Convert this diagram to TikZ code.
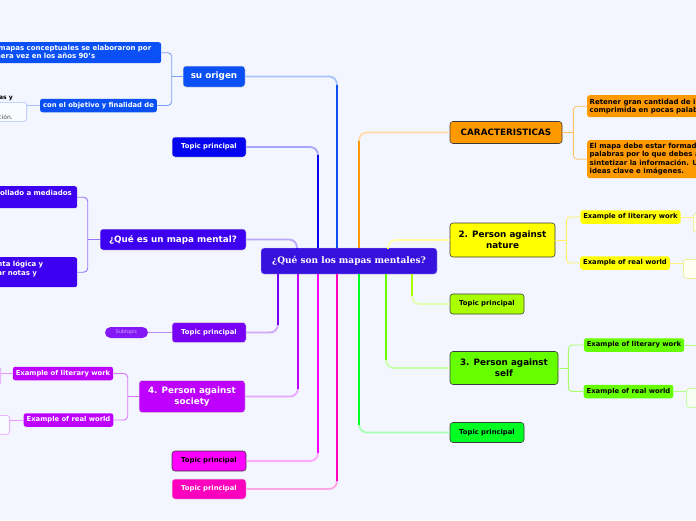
\documentclass[tikz,border=0pt]{standalone}
\usepackage{fontspec}
\setsansfont{DejaVu Sans}
\newfontfamily\rootfont{DejaVu Serif}
\usetikzlibrary{positioning}

\definecolor{bgpaper}{RGB}{243,246,254}
\definecolor{rootblue}{RGB}{55,18,222}
\definecolor{originblue}{RGB}{10,80,245}
\definecolor{topicblue}{RGB}{5,5,240}
\definecolor{mentalviolet}{RGB}{62,0,240}
\definecolor{topicviolet}{RGB}{120,0,245}
\definecolor{societypurple}{RGB}{190,0,255}
\definecolor{topicmagenta}{RGB}{255,0,255}
\definecolor{topicpink}{RGB}{255,0,190}
\definecolor{caracorange}{RGB}{255,153,0}
\definecolor{natureyellow}{RGB}{255,255,0}
\definecolor{topiclime}{RGB}{170,255,0}
\definecolor{selfgreen}{RGB}{102,255,0}
\definecolor{topicgreen}{RGB}{0,255,34}
\definecolor{edgegray}{RGB}{60,60,60}

\begin{document}
\begin{tikzpicture}[x=1pt, y=-1pt,
    rootbox/.style={rectangle, rounded corners=3, fill=rootblue, draw=white!70!rootblue, text=white, font=\rootfont\bfseries\fontsize{9}{11}\selectfont, minimum width=176, minimum height=26},
    bigbox/.style={rectangle, rounded corners=3, align=center, font=\sffamily\bfseries\fontsize{8.8}{10.7}\selectfont, inner sep=2},
    topicbox/.style={rectangle, rounded corners=3, font=\sffamily\bfseries\fontsize{6.8}{8}\selectfont, minimum width=74, minimum height=20},
    leafbox/.style={rectangle, rounded corners=2.5, font=\sffamily\bfseries\fontsize{6.8}{8}\selectfont, minimum height=13.5, inner xsep=3, inner ysep=1},
    notebox/.style={rectangle, rounded corners=2.5, align=left, font=\sffamily\bfseries\fontsize{7}{8.5}\selectfont, inner sep=2.5},
    stubbox/.style={rectangle, rounded corners=3, minimum width=40, minimum height=19, line width=0.6},
    darkedge/.style={draw=edgegray, line width=0.6, text=black},
    lightedge/.style={draw=white!75!gray, line width=0.5, text=white},
    trunk/.style={line width=1.8, rounded corners=8},
    twig/.style={line width=0.9, rounded corners=4}
]
\useasboundingbox (0,0) rectangle (696,520);
\fill[bgpaper] (0,0) rectangle (696,520);
\clip (0,0) rectangle (696,520);

% central topic
\node[rootbox] (root) at (349,261) {¿Qué son los mapas mentales?};

% right side
\node[bigbox, fill=caracorange, darkedge, minimum width=112, minimum height=22] (carac) at (506,132.5) {CARACTERISTICAS};
\node[notebox, fill=caracorange, anchor=north west, minimum height=22] (retener) at (587,95) {Retener gran cantidad de información\\comprimida en pocas palabras.};
\node[notebox, fill=caracorange, anchor=north west, minimum height=38] (formado) at (587,140) {El mapa debe estar formado por pocas\\palabras por lo que debes aprender a\\sintetizar la información. Utiliza\\ideas clave e imágenes.};

\node[bigbox, fill=natureyellow, darkedge, minimum width=105, minimum height=34] (nature) at (502.5,240) {2. Person against\\nature};
\node[leafbox, fill=natureyellow] (natlit) at (630.5,217) {Example of literary work};
\node[leafbox, fill=natureyellow] (natreal) at (625,263) {Example of real world};
\node[stubbox, draw=natureyellow!70!gray!60, fill=natureyellow!5, anchor=north west] (natlitnote) at (693,213) {};
\node[stubbox, draw=natureyellow!70!gray!60, fill=natureyellow!5, anchor=north west] (natrealnote) at (683,259) {};

\node[topicbox, fill=topiclime, darkedge] (limetopic) at (487,304) {Topic principal};

\node[bigbox, fill=selfgreen, darkedge, minimum width=108, minimum height=33] (self) at (504,368) {3. Person against\\self};
\node[leafbox, fill=selfgreen] (selflit) at (634,345) {Example of literary work};
\node[leafbox, fill=selfgreen] (selfreal) at (628.5,391.5) {Example of real world};
\coordinate (selflitend) at (696,345);
\node[stubbox, draw=selfgreen!50, fill=selfgreen!5, anchor=north west] (selfrealnote) at (686,388) {};

\node[topicbox, fill=topicgreen, darkedge] (greentopic) at (487,432.5) {Topic principal};

% left side
\node[bigbox, fill=originblue, lightedge, minimum width=62, minimum height=21] (origin) at (214,76.5) {su origen};
\node[notebox, fill=originblue, text=white, anchor=north west, text width=176, minimum height=21] (conceptual) at (-20,42) {Los mapas conceptuales se elaboraron por\\primera vez en los años 90's};
\node[leafbox, fill=originblue, text=white] (objective) at (98.5,105.5) {con el objetivo y finalidad de};
\node[stubbox, draw=originblue!35, fill=white!60!bgpaper, anchor=north east, minimum width=50] (objnote) at (27,102) {};
\node[font=\sffamily\bfseries\fontsize{6}{7}\selectfont, anchor=base east, inner sep=0] (objtop) at (13,99) {ideas y};
\node[font=\sffamily\fontsize{6}{7}\selectfont, text=black!70, anchor=base east, inner sep=0] (objtail) at (13,119) {información.};

\node[topicbox, fill=topicblue, lightedge] (bluetopic) at (209,147) {Topic principal};

\node[bigbox, fill=mentalviolet, lightedge, minimum width=146, minimum height=21] (mental) at (173,239.5) {¿Qué es un mapa mental?};
\node[notebox, fill=mentalviolet, text=white, anchor=north west, text width=101, minimum height=22] (developed) at (-29,186) {Desarrollado a mediados\\\mbox{}};
\node[notebox, fill=mentalviolet, text=white, anchor=north west, text width=113, minimum height=30] (logic) at (-41,257) {herramienta lógica y\\para tomar notas y\\\mbox{}};

\node[topicbox, fill=topicviolet, lightedge] (violettopic) at (209,332.5) {Topic principal};
\node[rectangle, rounded corners=5.5, fill=topicviolet!90!white, text=white!65!topicviolet, font=\sffamily\fontsize{5}{6}\selectfont, minimum width=43, minimum height=11, inner sep=1] (subtopic) at (126.5,332.5) {Subtopic};

\node[bigbox, fill=societypurple, lightedge, minimum width=106, minimum height=32] (society) at (192,396.5) {4. Person against\\society};
\node[leafbox, fill=societypurple, text=white] (soclit) at (63,373.5) {Example of literary work};
\node[leafbox, fill=societypurple, text=white] (socreal) at (68.5,420) {Example of real world};
\node[stubbox, draw=societypurple!40, fill=white!60!bgpaper, anchor=north east] (soclitnote) at (1,366) {};
\node[stubbox, draw=societypurple!40, fill=white!60!bgpaper, anchor=north east] (socrealnote) at (10,415) {};

\node[topicbox, fill=topicmagenta, darkedge] (magentatopic) at (209,461) {Topic principal};
\node[topicbox, fill=topicpink, lightedge] (pinktopic) at (209,489) {Topic principal};

% trunks: light tint along the whole path, full colour on the vertical run
\foreach \child/\dx/\from/\to/\col in {origin/-12/north/east/originblue, bluetopic/-31/north/east/topicblue, mental/-52/north/east/mentalviolet,
    carac/10/north/west/caracorange, nature/39/north/west/natureyellow,
    violettopic/-71/south/east/topicviolet, society/-51/south/east/societypurple, magentatopic/-31/south/east/topicmagenta, pinktopic/-12/south/east/topicpink,
    limetopic/63/south/west/topiclime, self/37/south/west/selfgreen, greentopic/10/south/west/topicgreen} {
  \draw[trunk, \col!35] ([xshift=\dx]root.\from) |- (\child.\to);
  \draw[trunk, \col, shorten >=8] ([xshift=\dx]root.\from) -- ([xshift=\dx]root.\from |- \child.\to);
}

% twigs: bracket from each branch to its leaves
\coordinate (origin-j) at ([xshift=-11]origin.west);
\draw[twig, originblue!55] (origin.west) -- (origin-j);
\foreach \leaf in {conceptual, objective} \draw[twig, originblue!55] (origin-j) |- (\leaf.east);

\coordinate (mental-j) at ([xshift=-12]mental.west);
\draw[twig, mentalviolet!55] (mental.west) -- (mental-j);
\foreach \leaf in {developed, logic} \draw[twig, mentalviolet!55] (mental-j) |- (\leaf.east);

\coordinate (society-j) at ([xshift=-11]society.west);
\draw[twig, societypurple!55] (society.west) -- (society-j);
\foreach \leaf in {soclit, socreal} \draw[twig, societypurple!55] (society-j) |- (\leaf.east);

\coordinate (carac-j) at ([xshift=11]carac.east);
\draw[twig, caracorange!60] (carac.east) -- (carac-j);
\foreach \leaf in {retener, formado} \draw[twig, caracorange!60] (carac-j) |- (\leaf.west);

\coordinate (nature-j) at ([xshift=11]nature.east);
\draw[twig, natureyellow!80!orange!60] (nature.east) -- (nature-j);
\foreach \leaf in {natlit, natreal} \draw[twig, natureyellow!80!orange!60] (nature-j) |- (\leaf.west);

\coordinate (self-j) at ([xshift=10]self.east);
\draw[twig, selfgreen!60] (self.east) -- (self-j);
\foreach \leaf in {selflit, selfreal} \draw[twig, selfgreen!60] (self-j) |- (\leaf.west);

% single links
\draw[twig, topicviolet!45] (violettopic.west) -- (subtopic.east);
\draw[twig, originblue!35] (objective.west) -- (objective.west -| objnote.east);
\draw[twig, societypurple!40] (soclit.west) -- (soclit.west -| soclitnote.east);
\draw[twig, societypurple!40] (socreal.west) -- (socreal.west -| socrealnote.east);
\draw[twig, natureyellow!80!orange!50] (natlit.east) -- (natlit.east -| natlitnote.west);
\draw[twig, natureyellow!80!orange!50] (natreal.east) -- (natreal.east -| natrealnote.west);
\draw[twig, selfgreen!50] (selflit.east) -- (selflitend);
\draw[twig, selfgreen!50] (selfreal.east) -- (selfreal.east -| selfrealnote.west);
\end{tikzpicture}
\end{document}
